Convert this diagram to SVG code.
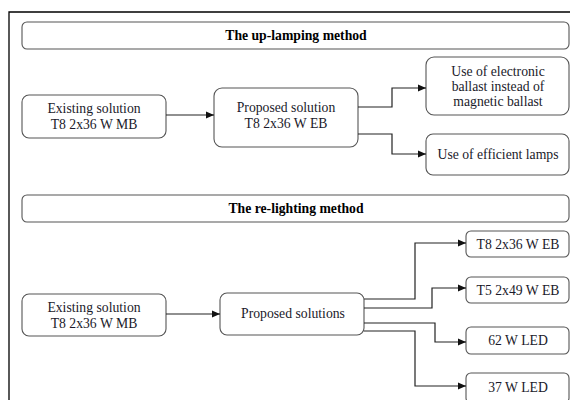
<svg xmlns="http://www.w3.org/2000/svg" width="570" height="400" viewBox="0 0 570 400">
<style>
.box{fill:#fff;stroke:#555;stroke-width:1.1}
text{font-size:13.7px;fill:#1a1a2a;text-anchor:middle}
.b{font-weight:bold;fill:#000}
.c{fill:none;stroke:#222;stroke-width:1.2}
</style>
<defs>
<marker id="ah" markerWidth="8" markerHeight="8" refX="8" refY="4" orient="auto" markerUnits="userSpaceOnUse">
<path d="M0,0.5 L8,4 L0,7.5 Z" fill="#111"/>
</marker>
</defs>
<rect width="570" height="400" fill="#fff"/>
<path d="M9,400 V12 H570" fill="none" stroke="#000" stroke-width="1.3"/>
<g font-family="Liberation Serif, Times New Roman, serif">
<g id="title1"><rect class="box" x="22" y="22" width="547" height="27" rx="5"/><text class="b" x="296" y="39.5">The up-lamping method</text></g>
<g id="exist1"><rect class="box" x="22" y="95" width="144" height="43" rx="7"/><text x="94" y="113">Existing solution</text><text x="94" y="128.5">T8 2x36 W MB</text></g>
<g id="prop1"><rect class="box" x="214" y="88" width="144" height="59" rx="8"/><text x="286" y="112">Proposed solution</text><text x="286" y="127.5">T8 2x36 W EB</text></g>
<g id="elec"><rect class="box" x="426" y="57" width="143" height="58" rx="8"/><text x="498" y="76">Use of electronic</text><text x="498" y="91">ballast instead of</text><text x="498" y="105.5">magnetic ballast</text></g>
<g id="eff"><rect class="box" x="426" y="134" width="143" height="41" rx="7"/><text x="498" y="158.5">Use of efficient lamps</text></g>

<g id="title2"><rect class="box" x="22" y="195" width="547" height="27" rx="5"/><text class="b" x="296" y="212.5">The re-lighting method</text></g>
<g id="exist2"><rect class="box" x="22" y="294" width="144" height="42" rx="7"/><text x="94" y="312">Existing solution</text><text x="94" y="327.5">T8 2x36 W MB</text></g>
<g id="prop2"><rect class="box" x="220" y="293" width="144" height="42" rx="7"/><text x="293" y="317.5">Proposed solutions</text></g>
<g id="r1"><rect class="box" x="466" y="231" width="103" height="26" rx="5"/><text x="518" y="248.5">T8 2x36 W EB</text></g>
<g id="r2"><rect class="box" x="466" y="277" width="103" height="26" rx="5"/><text x="518" y="294.5">T5 2x49 W EB</text></g>
<g id="r3"><rect class="box" x="466" y="327" width="103" height="27" rx="5"/><text x="518" y="344.5">62 W LED</text></g>
<g id="r4"><rect class="box" x="466" y="373" width="103" height="30" rx="5"/><text x="518" y="391.5">37 W LED</text></g>
</g>
<g id="connectors">
<path class="c" d="M166,115 H214" marker-end="url(#ah)"/>
<path class="c" d="M358,107 H392 V88 H426" marker-end="url(#ah)"/>
<path class="c" d="M358,134 H392 V154 H426" marker-end="url(#ah)"/>
<path class="c" d="M166,314 H220" marker-end="url(#ah)"/>
<path class="c" d="M364,299 H415 V243 H466" marker-end="url(#ah)"/>
<path class="c" d="M364,308 H432 V288 H466" marker-end="url(#ah)"/>
<path class="c" d="M364,323 H435 V342 H466" marker-end="url(#ah)"/>
<path class="c" d="M364,331 H415 V386 H466" marker-end="url(#ah)"/>
</g>
</svg>
